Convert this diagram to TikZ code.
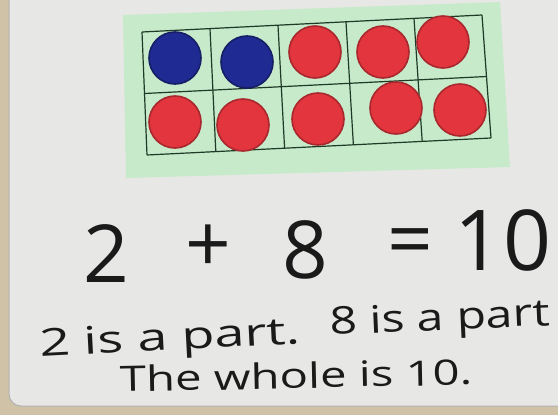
\documentclass[tikz,border=0pt]{standalone}
\usepackage{fontspec}
\setmainfont{Open Sans}
\usepackage{xcolor}
\usetikzlibrary{calc}

\definecolor{boardgrey}{HTML}{E7E7E5}
\definecolor{framebeige}{HTML}{CFC2A6}
\definecolor{mintgreen}{HTML}{C6EACA}
\definecolor{gridgreen}{HTML}{1F3A26}
\definecolor{chipblue}{HTML}{1F2B92}
\definecolor{chipred}{HTML}{E2353D}
\definecolor{ink}{HTML}{1A1A1A}

\begin{document}
\begin{tikzpicture}[
  x=1pt,y=-1pt,
  chip/.style={circle,minimum size=52pt,inner sep=0pt,line width=1.6pt},
  bluechip/.style={chip,fill=chipblue,draw=chipblue!70!black},
  redchip/.style={chip,fill=chipred,draw=chipred!75!black},
  gridline/.style={draw=gridgreen,line width=1.2pt},
  sumtext/.style={text=ink,inner sep=0pt,font=\fontsize{80}{90}\selectfont},
  wordtext/.style={text=ink,inner sep=0pt,anchor=base west,font=\fontsize{38}{44}\selectfont}
]
\useasboundingbox (0,0) rectangle (558,415);

% board and frame
\fill[framebeige] (0,0) rectangle (558,415);
\fill[boardgrey,draw=gray!60,line width=1pt,rounded corners=12pt] (9,-20) rectangle (580,406);

% ten frame card
\fill[mintgreen] (123,15) -- (500,2) -- (510,167) -- (126,178) -- cycle;
\coordinate (TL) at (142,32);
\coordinate (TR) at (482,15);
\coordinate (BL) at (147,155);
\coordinate (BR) at (491,138);
\foreach \i in {0,...,5}
  \draw[gridline] ($(TL)!\i/5!(TR)$) -- ($(BL)!\i/5!(BR)$);
\foreach \j in {0,1,2}
  \draw[gridline] ($(TL)!\j/2!(BL)$) -- ($(TR)!\j/2!(BR)$);

% counters
\node[bluechip] (b1) at (175,58) {};
\node[bluechip] (b2) at (247,62) {};
\node[redchip] (r1) at (315,52) {};
\node[redchip] (r2) at (383,52) {};
\node[redchip] (r3) at (443,42) {};
\node[redchip] (r4) at (175,122) {};
\node[redchip] (r5) at (243,125) {};
\node[redchip] (r6) at (318,119) {};
\node[redchip] (r7) at (396,108) {};
\node[redchip] (r8) at (460,110) {};

% number sentence
\node[sumtext,anchor=base] (two) at (106,282) {2};
\node[sumtext] (plus) at (208,249) {+};
\node[sumtext,anchor=base] (eight) at (305,278) {8};
\node[sumtext] (equals) at (410,248) {=};
\node[sumtext,anchor=base,font=\fontsize{84}{94}\selectfont] (ten) at (503,270) {10};

% words
\node[wordtext,rotate=3] (partA) at (40,357) {\scalebox{1.42}[1]{2 is a part.}};
\node[wordtext,rotate=2.5] (partB) at (330,335) {\scalebox{1.27}[1]{8 is a part}};
\node[wordtext,rotate=1.2,font=\fontsize{35}{40}\selectfont] (whole) at (120,392) {\scalebox{1.35}[1]{The whole is 10.}};

\end{tikzpicture}
\end{document}
